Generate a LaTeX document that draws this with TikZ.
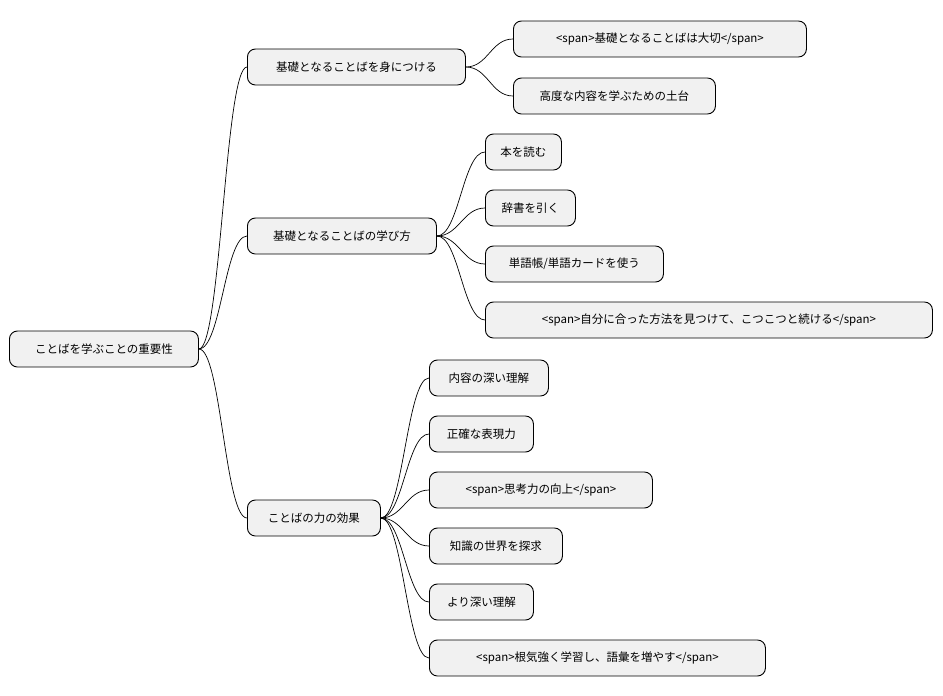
\documentclass[tikz,border=0pt]{standalone}
\usepackage{fontspec}
\setmainfont{Noto Sans CJK JP}
\begin{document}
\begin{tikzpicture}[x=1pt,y=-1pt,
  n/.style={draw=black,line width=0.9pt,fill={rgb,255:red,241;green,241;blue,241},rounded corners=8pt,minimum height=36pt,inner sep=0pt,font=\fontsize{11.5pt}{13pt}\selectfont,anchor=west},
  c/.style={line width=0.7pt}]
\useasboundingbox (0,0) rectangle (943,696);
\newcommand{\nd}[5]{\node[n,minimum width=#4pt] (#1) at (#2,#3) {#5};}
\nd{r}{9}{349}{189}{ことばを学ぶことの重要性}
\nd{a}{247}{67}{218}{基礎となることばを身につける}
\nd{b}{247}{236}{189}{基礎となることばの学び方}
\nd{c}{247}{518}{133}{ことばの力の効果}
\nd{a1}{513}{39}{293}{<span>基礎となることばは大切</span>}
\nd{a2}{513}{96}{202}{高度な内容を学ぶための土台}
\nd{b1}{485}{152}{76}{本を読む}
\nd{b2}{485}{208}{90}{辞書を引く}
\nd{b3}{485}{264}{178}{単語帳/単語カードを使う}
\nd{b4}{485}{320}{447}{<span>自分に合った方法を見つけて、こつこつと続ける</span>}
\nd{c1}{429}{378}{119}{内容の深い理解}
\nd{c2}{429}{434}{104}{正確な表現力}
\nd{c3}{429}{490}{223}{<span>思考力の向上</span>}
\nd{c4}{429}{546}{133}{知識の世界を探求}
\nd{c5}{429}{602}{104}{より深い理解}
\nd{c6}{429}{658}{336}{<span>根気強く学習し、語彙を増やす</span>}
\foreach \p/\q in {r/a,r/b,r/c,a/a1,a/a2,b/b1,b/b2,b/b3,b/b4,c/c1,c/c2,c/c3,c/c4,c/c5,c/c6}
  \draw[c] (\p.east) .. controls +(22,0) and +(-22,0) .. (\q.west);
\end{tikzpicture}
\end{document}
